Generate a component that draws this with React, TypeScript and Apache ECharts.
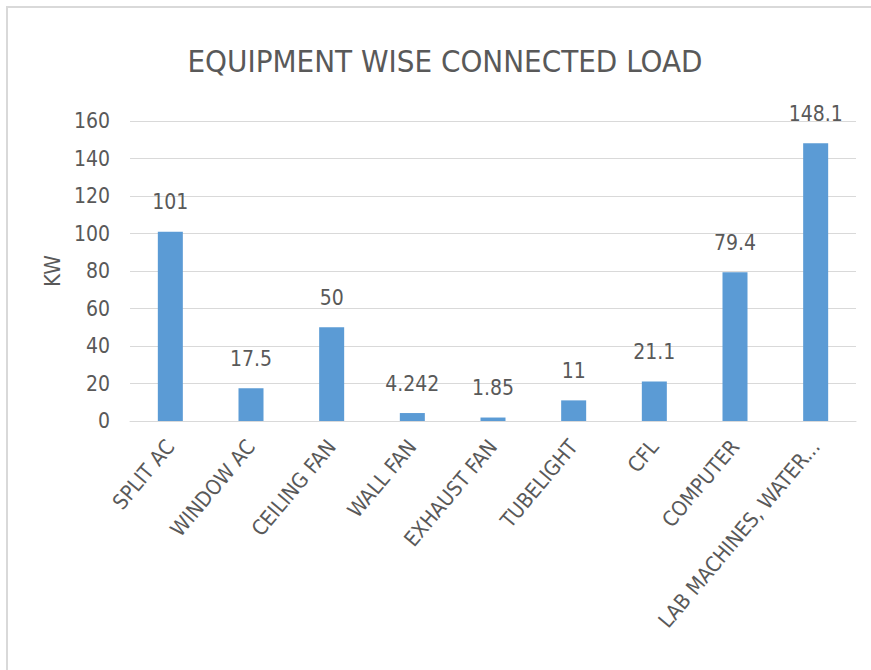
import React, { useEffect, useRef } from "react";
import * as echarts from "echarts";

const categories = [
  "SPLIT AC",
  "WINDOW AC",
  "CEILING FAN",
  "WALL FAN",
  "EXHAUST FAN",
  "TUBELIGHT",
  "CFL",
  "COMPUTER",
  "LAB MACHINES, WATER...",
];
const loadKW = [101, 17.5, 50, 4.242, 1.85, 11, 21.1, 79.4, 148.1];
const yMin = 0;
const yMax = 160;
const yStep = 20;

const FONT = "'DejaVu Sans Condensed', 'DejaVu Sans', sans-serif";
const TXT = "#595959";

export default function App() {
  const ref = useRef<HTMLDivElement>(null);
  useEffect(() => {
    if (!ref.current) return;
    const chart = echarts.init(ref.current, undefined, { renderer: "svg" });
    chart.setOption({
      animation: false,
      backgroundColor: "#ffffff",
      textStyle: { fontFamily: FONT },
      graphic: [
        {
          type: "rect",
          shape: { x: 7, y: 7, width: 900, height: 700 },
          style: { fill: "none", stroke: "#d9d9d9", lineWidth: 2 },
          silent: true,
        },
        {
          type: "text",
          x: 445,
          y: 61,
          style: {
            text: "EQUIPMENT WISE CONNECTED LOAD",
            font: `normal 31px ${FONT}`,
            fill: TXT,
            align: "center",
            verticalAlign: "middle",
          },
          silent: true,
        },
      ],
      grid: { left: 130, right: 15, top: 121, bottom: 249 },
      xAxis: {
        type: "category",
        data: categories,
        axisLine: { lineStyle: { color: "#d9d9d9" } },
        axisTick: { show: false },
        axisLabel: {
          rotate: 50,
          interval: 0,
          margin: 22,
          fontSize: 21,
          color: TXT,
          fontFamily: FONT,
        },
      },
      yAxis: {
        type: "value",
        min: yMin,
        max: yMax,
        interval: yStep,
        name: "KW",
        nameLocation: "middle",
        nameRotate: 90,
        nameGap: 62,
        nameTextStyle: { fontSize: 22, color: TXT, fontFamily: FONT },
        axisLine: { show: false },
        axisTick: { show: false },
        axisLabel: { fontSize: 21, color: TXT, margin: 20, fontFamily: FONT },
        splitLine: { lineStyle: { color: "#d9d9d9", width: 1 } },
      },
      series: [
        {
          type: "bar",
          data: loadKW,
          barWidth: "31%",
          itemStyle: { color: "#5b9bd5" },
          label: {
            show: true,
            position: "top",
            distance: 19,
            fontSize: 21,
            color: TXT,
            fontFamily: FONT,
          },
        },
      ],
    });
    return () => chart.dispose();
  }, []);
  return (
    <div
      ref={ref}
      style={{ position: "fixed", left: 0, top: 0, width: 871, height: 670 }}
    />
  );
}
